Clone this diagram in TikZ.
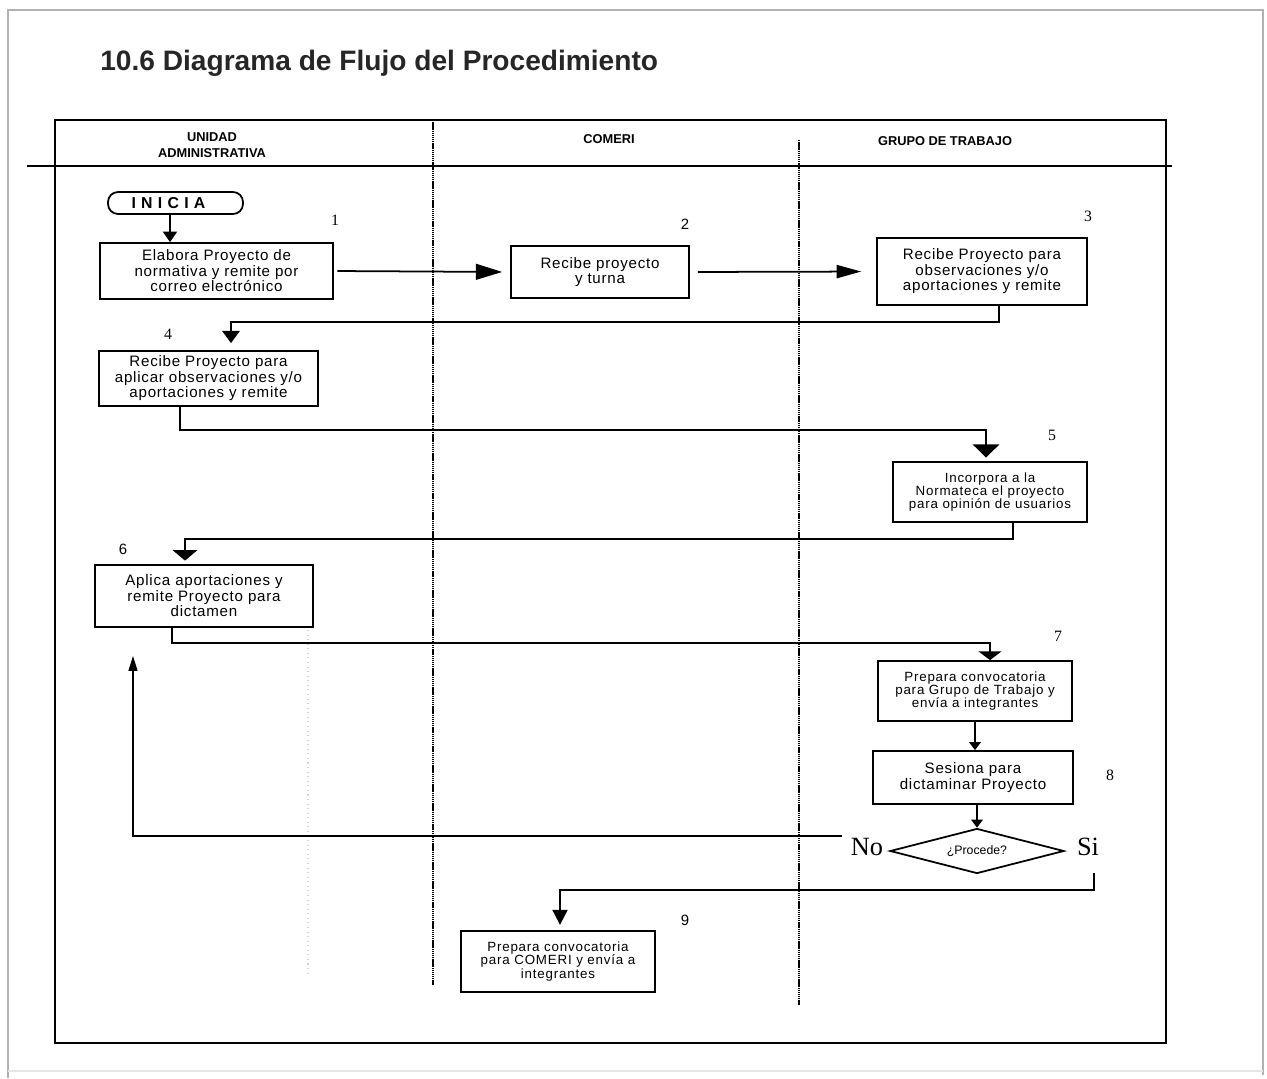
\documentclass[tikz,border=0pt]{standalone}
\usepackage{fontspec}
\setmainfont{Liberation Sans}
\newfontfamily\numfont{Liberation Serif}
\usetikzlibrary{arrows.meta,shapes.geometric,calc}

\begin{document}
\begin{tikzpicture}[x=0.02cm, y=-0.02cm,
    paso/.style={draw, line width=1pt, align=center, inner sep=1pt,
      font=\fontsize{8.6}{8.8}\selectfont\addfontfeature{LetterSpace=5}},
    pasochico/.style={paso, font=\fontsize{7.6}{7.6}\selectfont\addfontfeature{LetterSpace=6}},
    carril/.style={font=\bfseries\fontsize{7.3}{9}\selectfont, align=center},
    num/.style={font=\numfont\fontsize{9}{10}\selectfont},
    numsans/.style={font=\fontsize{8.5}{10}\selectfont},
    resp/.style={font=\numfont\fontsize{15}{16}\selectfont},
    divisor/.style={line width=1.3pt, dash pattern=on 0.8pt off 0.4pt},
    flecha/.style 2 args={line width=1pt, -{Triangle[width=#1,length=#2]}}]
  \useasboundingbox (0,0) rectangle (1267,1078);

  % marco de la hoja y tabla de carriles
  \draw[gray!60, line width=0.8pt] (8,1078) -- (8,10) -- (1263,10) -- (1263,1075);
  \draw[gray!20, line width=0.6pt] (8,1071) -- (1263,1071);
  \node[anchor=base west, inner sep=0pt, font=\bfseries\fontsize{16}{18}\selectfont,
    text=black!85] (titulo) at (100,71) {10.6 Diagrama de Flujo del Procedimiento};
  \draw[line width=1.2pt] (55,120) rectangle (1166,1043);
  \draw[line width=1.2pt] (27,166) -- (1172,166);
  \draw[divisor] (433,120) -- (433,985);
  \draw[divisor] (799,140) -- (799,1005);
  \draw[gray!35, line width=0.6pt, dotted] (308,630) -- (308,975);

  \node[carril] (unidad) at (212,145) {UNIDAD\\ADMINISTRATIVA};
  \node[carril] (comeri) at (609,139) {COMERI};
  \node[carril] (grupo) at (945,141) {GRUPO DE TRABAJO};

  % pasos
  \node[draw, line width=1pt, rounded corners=0.2cm, minimum width=2.7cm,
    minimum height=0.44cm, inner sep=0pt, font=\bfseries\fontsize{9}{9}\selectfont]
    (inicia) at (175.5,203) {I\kern3pt N\kern3pt I\kern3pt C\kern3pt I\kern3pt A\kern8pt};
  \node[paso, minimum width=4.66cm, minimum height=1.12cm] (elabora) at (216.5,271)
    {Elabora Proyecto de\\normativa y remite por\\correo electrónico};
  \node[paso, minimum width=3.56cm, minimum height=1.04cm] (recibe) at (600,272)
    {Recibe proyecto\\y turna};
  \node[paso, minimum width=4.2cm, minimum height=1.34cm] (observa) at (982,271.5)
    {Recibe Proyecto para\\observaciones y/o\\aportaciones y remite};
  \node[paso, minimum width=4.38cm, minimum height=1.1cm] (aplica) at (208.5,378.5)
    {Recibe Proyecto para\\aplicar observaciones y/o\\aportaciones y remite};
  \node[pasochico, minimum width=3.88cm, minimum height=1.2cm] (incorpora) at (990,492)
    {Incorpora a la\\Normateca el proyecto\\para opinión de usuarios};
  \node[paso, minimum width=4.36cm, minimum height=1.24cm] (dictamen) at (204,596)
    {Aplica aportaciones y\\remite Proyecto para\\dictamen};
  \node[pasochico, minimum width=3.88cm, minimum height=1.2cm] (convoca) at (975,691)
    {Prepara convocatoria\\para Grupo de Trabajo y\\envía a integrantes};
  \node[paso, minimum width=4cm, minimum height=1.06cm] (sesiona) at (973,777.5)
    {Sesiona para\\dictaminar Proyecto};
  \node[draw, diamond, aspect=3.9, line width=1pt, inner sep=0pt, minimum width=3.48cm,
    minimum height=0.9cm, font=\fontsize{7}{8}\selectfont] (procede) at (977,851) {¿Procede?};
  \node[pasochico, minimum width=3.88cm, minimum height=1.22cm] (convocomeri) at (558,961.5)
    {Prepara convocatoria\\para COMERI y envía a\\integrantes};

  % numeros y respuestas
  \node[num] (n1) at (335,220) {1};
  \node[numsans] (n2) at (685,224) {2};
  \node[num] (n3) at (1088,216) {3};
  \node[num] (n4) at (168,334) {4};
  \node[num] (n5) at (1052,435) {5};
  \node[numsans] (n6) at (123,549) {6};
  \node[num] (n7) at (1058,636) {7};
  \node[num] (n8) at (1110,775) {8};
  \node[numsans] (n9) at (685,920) {9};
  \node[resp] (no) at (867,847) {No};
  \node[resp] (si) at (1088,847) {Si};

  % conexiones
  \draw[flecha={8pt}{6pt}] (inicia.south -| 170,0) -- (elabora.north -| 170,0);
  \draw[flecha={9pt}{15pt}, shorten <=2pt, shorten >=4.5pt] (elabora.east) -- (recibe.west);
  \draw[flecha={7.5pt}{14pt}, shorten <=4.5pt, shorten >=8.5pt] (recibe.east) -- (observa.west);
  \draw[flecha={10pt}{7pt}, shorten >=4pt] ($(observa.south)+(17,0)$) -- ++(0,16)
    -| ($(aplica.north)+(22.5,0)$);
  \draw[flecha={15pt}{7.5pt}, shorten >=2pt] ($(aplica.south)+(-28.5,0)$) -- ++(0,23)
    -| ($(incorpora.north)+(-4,0)$);
  \draw[flecha={14pt}{6pt}, shorten >=2pt] ($(incorpora.south)+(23,0)$) -- ++(0,16)
    -| ($(dictamen.north)+(-19,0)$);
  \draw[flecha={13pt}{5pt}] ($(dictamen.south)+(-32,0)$) -- ++(0,15)
    -| ($(convoca.north)+(15,0)$);
  \draw[flecha={6.5pt}{4.5pt}] (convoca.south) -- (convoca.south |- sesiona.north);
  \draw[flecha={6.5pt}{4.5pt}] (sesiona.south -| procede.north) -- (procede.north);
  \draw[flecha={5pt}{8.5pt}] ($(procede.west)+(-47,-15)$) -| ($(dictamen.south)+(-71,28)$);
  \draw[flecha={8.5pt}{8.5pt}, shorten >=3pt] ($(procede.east)+(29,22)$) -- ++(0,17)
    -| ($(convocomeri.north)+(2,0)$);
\end{tikzpicture}
\end{document}
